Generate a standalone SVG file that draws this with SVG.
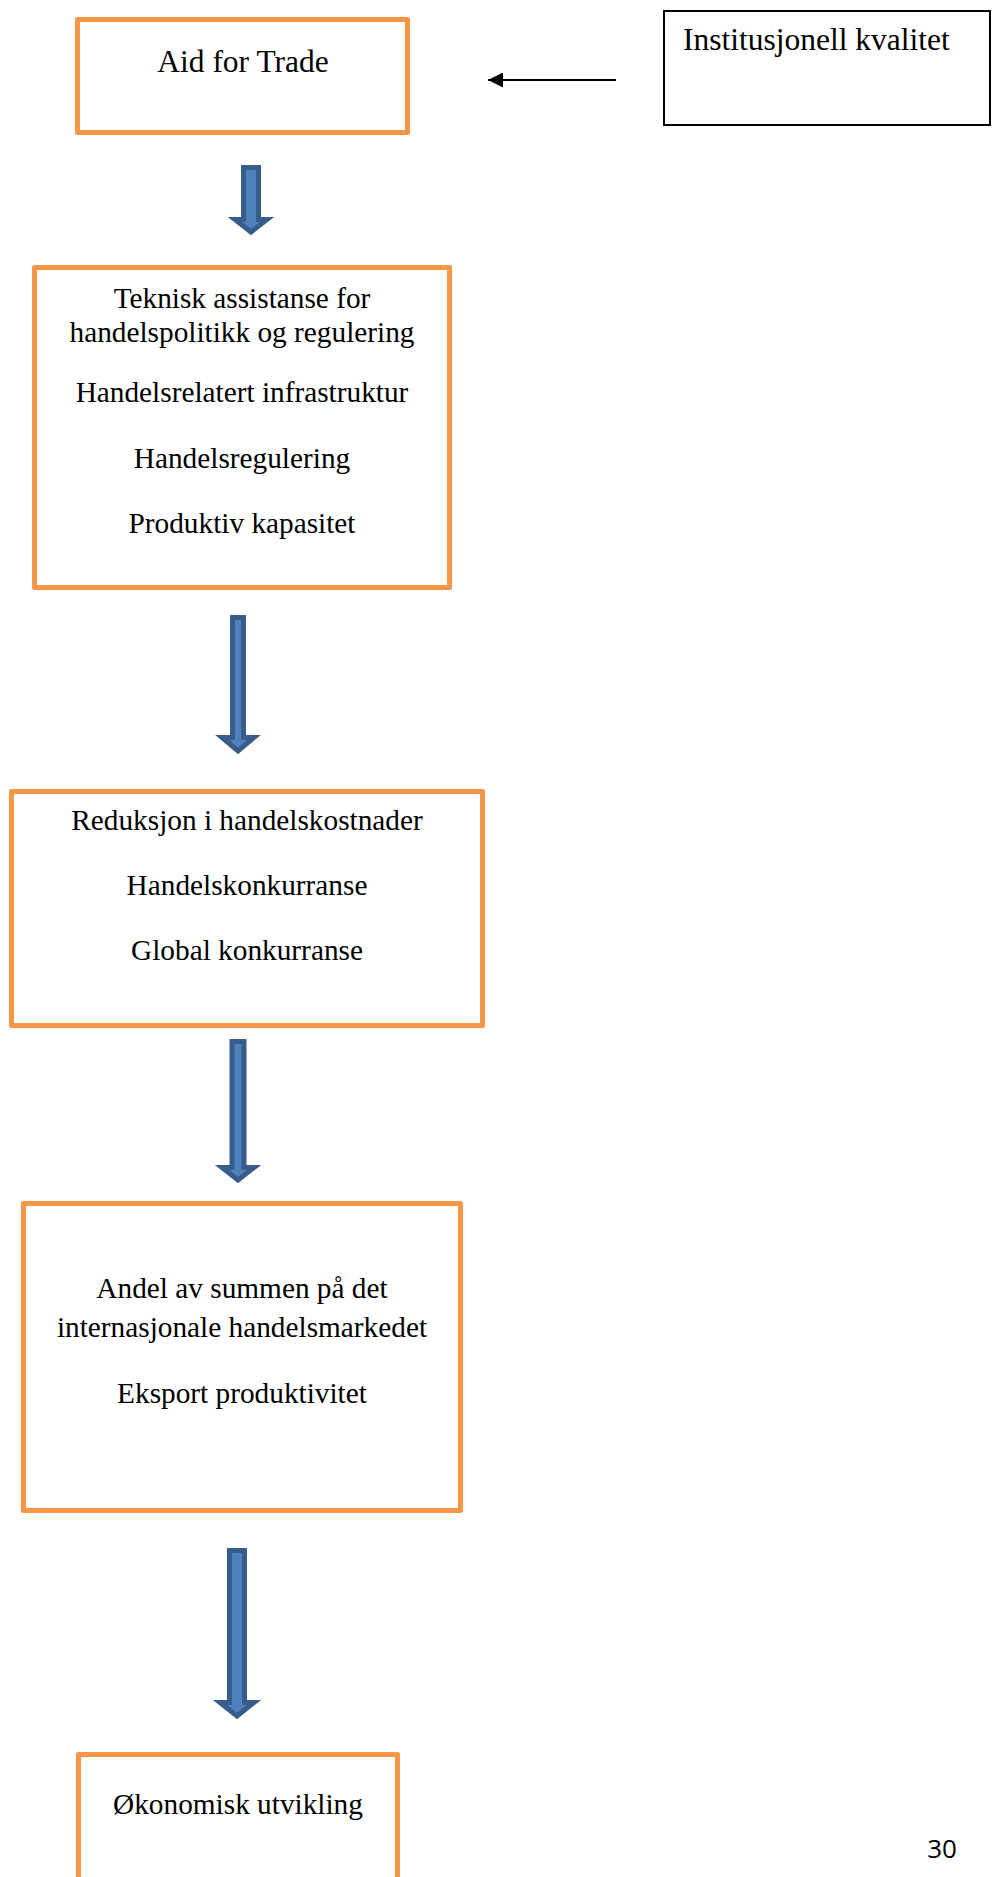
<svg xmlns="http://www.w3.org/2000/svg" width="1000" height="1877" viewBox="0 0 1000 1877">
<style>
.box{fill:#fff;stroke:#F79646;stroke-width:5;stroke-linejoin:round}
.box2{fill:#fff;stroke:#000;stroke-width:2}
.t{font-family:"Liberation Serif","Times New Roman",serif;font-size:29.3px;fill:#000;text-anchor:middle}
.tl{font-family:"Liberation Serif","Times New Roman",serif;font-size:31.5px;fill:#000}
.blue{fill:#4F81BD;stroke:#385D8A;stroke-width:5;stroke-linejoin:miter}
.pg{font-family:"Open Sans","Noto Sans",sans-serif;font-size:26px;fill:#000;text-anchor:middle}
</style>
<defs>
<marker id="ah" viewBox="0 0 10 10" refX="10" refY="5" markerWidth="7.5" markerHeight="7.5" orient="auto" markerUnits="strokeWidth">
<path d="M0,0 L10,5 L0,10 z" fill="#000"/>
</marker>
</defs>
<g id="connectors">
<line x1="616" y1="80" x2="488" y2="80" stroke="#000" stroke-width="2" marker-end="url(#ah)"/>
<path class="blue" d="M243.5,167.5 H258.5 V219.5 H267 L251,232 L235,219.5 H243.5 Z"/>
<path class="blue" d="M232.5,617.5 H243.5 V737.5 H254 L238,751 L222,737.5 H232.5 Z"/>
<path class="blue" d="M232,1041.5 H244 V1167.5 H254 L238,1180 L222,1167.5 H232 Z"/>
<path class="blue" d="M229.5,1550.5 H244.5 V1702.5 H254 L237,1716 L220,1702.5 H229.5 Z"/>
</g>
<g id="node-aid">
<rect class="box" x="77.5" y="19.5" width="330" height="113"/>
<text class="tl" x="243" y="72" text-anchor="middle">Aid for Trade</text>
</g>
<g id="node-inst">
<rect class="box2" x="664" y="11" width="326" height="114"/>
<text class="tl" x="683" y="50">Institusjonell kvalitet</text>
</g>
<g id="node-teknisk">
<rect class="box" x="34.5" y="267.5" width="415" height="320"/>
<text class="t" x="242" y="308">Teknisk assistanse for</text>
<text class="t" x="242" y="342">handelspolitikk og regulering</text>
<text class="t" x="242" y="402">Handelsrelatert infrastruktur</text>
<text class="t" x="242" y="468">Handelsregulering</text>
<text class="t" x="242" y="533">Produktiv kapasitet</text>
</g>
<g id="node-reduksjon">
<rect class="box" x="11.5" y="791.5" width="471" height="234"/>
<text class="t" x="247" y="830">Reduksjon i handelskostnader</text>
<text class="t" x="247" y="895">Handelskonkurranse</text>
<text class="t" x="247" y="960">Global konkurranse</text>
</g>
<g id="node-andel">
<rect class="box" x="23.5" y="1203.5" width="437" height="307"/>
<text class="t" x="242" y="1298">Andel av summen på det</text>
<text class="t" x="242" y="1337">internasjonale handelsmarkedet</text>
<text class="t" x="242" y="1403">Eksport produktivitet</text>
</g>
<g id="node-okonomisk">
<rect class="box" x="78.5" y="1754.5" width="319" height="140"/>
<text class="t" x="238" y="1814">Økonomisk utvikling</text>
</g>
<text class="pg" x="942" y="1858">30</text>
</svg>
